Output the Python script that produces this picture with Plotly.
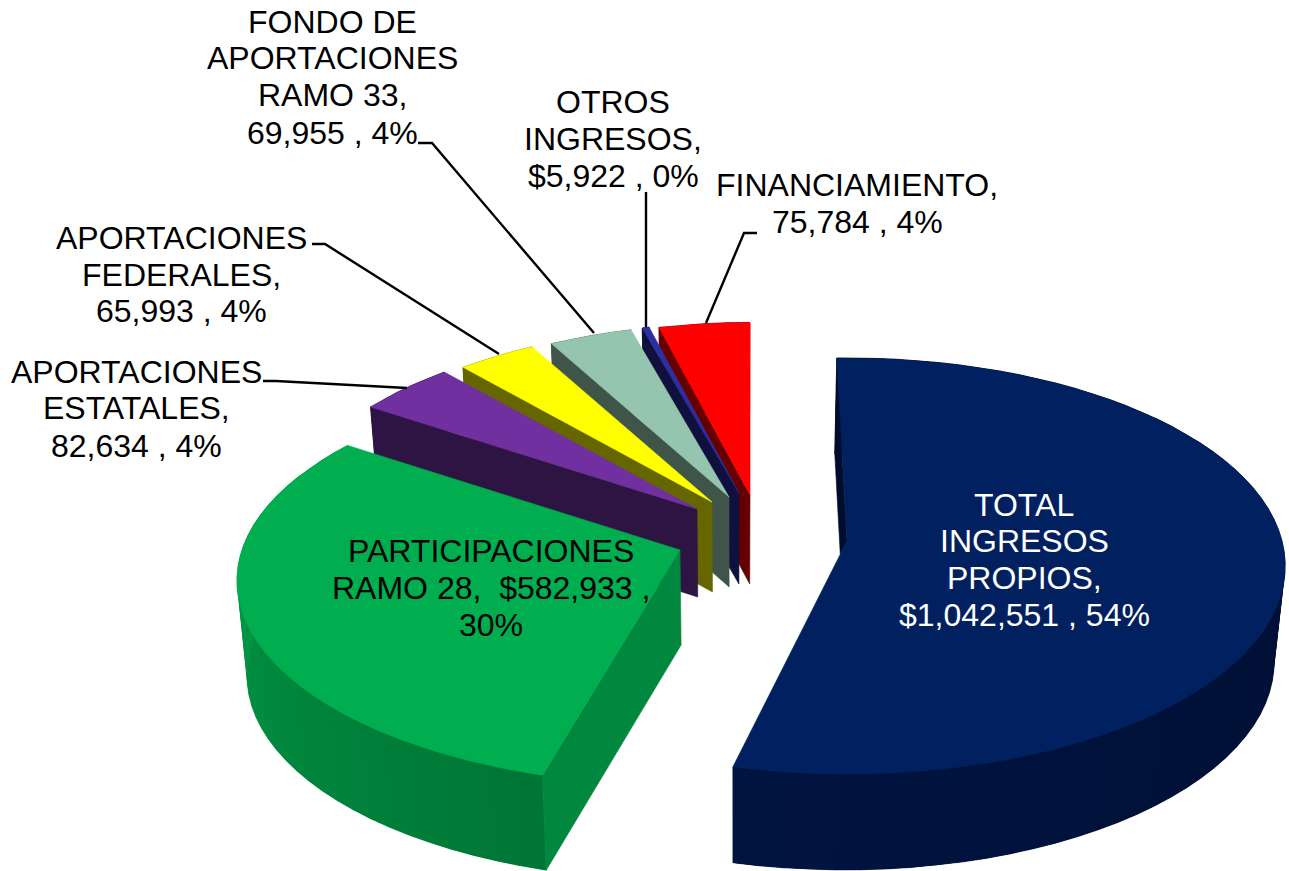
import numpy as np
import plotly.graph_objects as go

# ---- data ----
categories = ["TOTAL INGRESOS PROPIOS", "PARTICIPACIONES RAMO 28", "APORTACIONES ESTATALES",
              "APORTACIONES FEDERALES", "FONDO DE APORTACIONES RAMO 33", "OTROS INGRESOS", "FINANCIAMIENTO"]
values = [1042551, 582933, 82634, 65993, 69955, 5922, 75784]

# ---- per-slice look ----
top_colors = ["#002060", "#00AD4F", "#7030A0", "#FFFF00", "#95C5AE", "#2B2F9F", "#FF0000"]
cut_colors = ["#000C2B", "#00883E", "#2D1442", "#666600", "#3F5549", "#10103F", "#660000"]
side_start = ["#000B28", "#007636", "#2D1442", "#666600", "#3F5549", "#10103F", "#660000"]
side_end = ["#001440", "#00A34A", "#2D1442", "#666600", "#3F5549", "#10103F", "#660000"]

# ---- projection of each exploded slice ----
apex_x = [847, 680, 697, 712, 729, 739, 750]
apex_y = [541, 550, 509, 502, 497, 493, 495]
radius_x = [435, 438, 409, 403, 398, 393, 398]
radius_y = [205, 200, 190.5, 187.5, 185.4, 183, 185]
persp = [0.12, 0.15, 0.0725, 0.0725, 0.0725, 0.0725, 0.0725]
rot_deg = [-1.5, 0.7, 0, 0, 0, 0, 0]
depth = [96, 95, 88, 90, 90, 91, 89]
VANISH_X = 735
BOTTOM_SCALE = 0.98
W, H = 1289, 871

# ---- labels, one entry per text line ----
label_text = ["FONDO DE", "APORTACIONES", "RAMO 33,", "69,955 , 4%",
              "OTROS", "INGRESOS,", "$5,922 , 0%",
              "FINANCIAMIENTO,", "75,784 , 4%",
              "APORTACIONES", "FEDERALES,", "65,993 , 4%",
              "APORTACIONES", "ESTATALES,", "82,634 , 4%",
              "PARTICIPACIONES", "RAMO 28,  $582,933 ,", "30%",
              "TOTAL", "INGRESOS", "PROPIOS,", "$1,042,551 , 54%"]
label_x = [332, 332, 332, 332, 613, 613, 613, 857, 857, 181, 181, 181, 136, 136, 136,
           491, 491, 491, 1024, 1024, 1024, 1024]
label_y = [22, 58, 95, 133, 102, 139, 176, 185, 222, 238, 275, 311, 372, 408, 446,
           551, 588, 625, 505, 541, 578, 615]
label_color = ["#000000"] * 18 + ["#FFFFFF"] * 4

leader_x = [[418, 432, 594], [646, 646], [757, 744, 706], [312, 325, 499], [263, 276, 407]]
leader_y = [[143, 143, 333], [192, 327], [233, 233, 323], [244, 244, 354], [381, 381, 388]]


def project(i, theta):
    t = np.radians(np.asarray(theta, dtype=float))
    u, v = np.sin(t), np.cos(t)
    s = 1 / (1 + persp[i] * v)
    return apex_x[i] + radius_x[i] * u * s, apex_y[i] - radius_y[i] * v * s


def lower(i, x, y):
    return VANISH_X + (np.asarray(x) - VANISH_X) * BOTTOM_SCALE, np.asarray(y) + depth[i]


def mix(c1, c2, f):
    a = [int(c1[j:j + 2], 16) for j in (1, 3, 5)]
    b = [int(c2[j:j + 2], 16) for j in (1, 3, 5)]
    return "#%02X%02X%02X" % tuple(round(p + (q - p) * f) for p, q in zip(a, b))


def poly(fig, xs, ys, color, width=0.6):
    fig.add_trace(go.Scatter(x=list(xs) + [xs[0]], y=list(ys) + [ys[0]], mode="lines", fill="toself",
                             fillcolor=color, line=dict(color=color, width=width),
                             hoverinfo="skip", showlegend=False))


def intersect(p1, p2, p3, p4):
    d = (p1[0] - p2[0]) * (p3[1] - p4[1]) - (p1[1] - p2[1]) * (p3[0] - p4[0])
    a = p1[0] * p2[1] - p1[1] * p2[0]
    b = p3[0] * p4[1] - p3[1] * p4[0]
    return ((a * (p3[0] - p4[0]) - (p1[0] - p2[0]) * b) / d, (a * (p3[1] - p4[1]) - (p1[1] - p2[1]) * b) / d)


fig = go.Figure()
total = sum(values)
edges = np.concatenate([[0], np.cumsum(values) / total * 360])

for i in [6, 5, 4, 3, 2, 1, 0]:
    a0, a1 = edges[i] + rot_deg[i], edges[i + 1] + rot_deg[i]
    n = max(4, int((a1 - a0) / 3))
    th = np.linspace(a0, a1, n + 1)
    x, y = project(i, th)
    xb, yb = lower(i, x, y)
    ax, ay = apex_x[i], apex_y[i]
    axb, ayb = lower(i, ax, ay)

    # outer wall: one solid base, then overlapping strips so that no seams show
    poly(fig, list(x) + list(xb[::-1]), list(y) + list(yb[::-1]), mix(side_start[i], side_end[i], 0.5))
    for j in range(n):
        color = mix(side_start[i], side_end[i], j / max(n - 1, 1))
        k = min(j + 2, n)
        poly(fig, [x[j], x[k], xb[k], xb[j]], [y[j], y[k], yb[k], yb[j]], color, width=0)

    # cut wall on the starting edge
    if i == 0:
        ex, ey = project(i, a1)
        px, py = intersect((xb[0], yb[0]), (axb, ayb), (ax, ay), (float(ex), float(ey)))
        poly(fig, [x[0], xb[0], px, ax], [y[0], yb[0], py, ay], cut_colors[i])
    else:
        poly(fig, [x[0], ax, axb, xb[0]], [y[0], ay, ayb, yb[0]], cut_colors[i])

    # top face
    poly(fig, list(x) + [ax], list(y) + [ay], top_colors[i])

for lx, ly in zip(leader_x, leader_y):
    fig.add_trace(go.Scatter(x=lx, y=ly, mode="lines", line=dict(color="#000000", width=2.4),
                             hoverinfo="skip", showlegend=False))

for t, tx, ty, c in zip(label_text, label_x, label_y, label_color):
    fig.add_annotation(x=tx, y=ty, text=t, showarrow=False, xanchor="center", yanchor="middle",
                       font=dict(family="Liberation Sans, Arial, sans-serif", size=32, color=c))

fig.update_layout(width=W, height=H, margin=dict(l=0, r=0, t=0, b=0), showlegend=False,
                  paper_bgcolor="#FFFFFF", plot_bgcolor="#FFFFFF",
                  xaxis=dict(range=[0, W], visible=False, fixedrange=True),
                  yaxis=dict(range=[H, 0], visible=False, fixedrange=True))
fig.write_html("out.html", config=dict(displayModeBar=False),
               post_script="document.body.style.margin='0';document.body.style.overflow='hidden';")
